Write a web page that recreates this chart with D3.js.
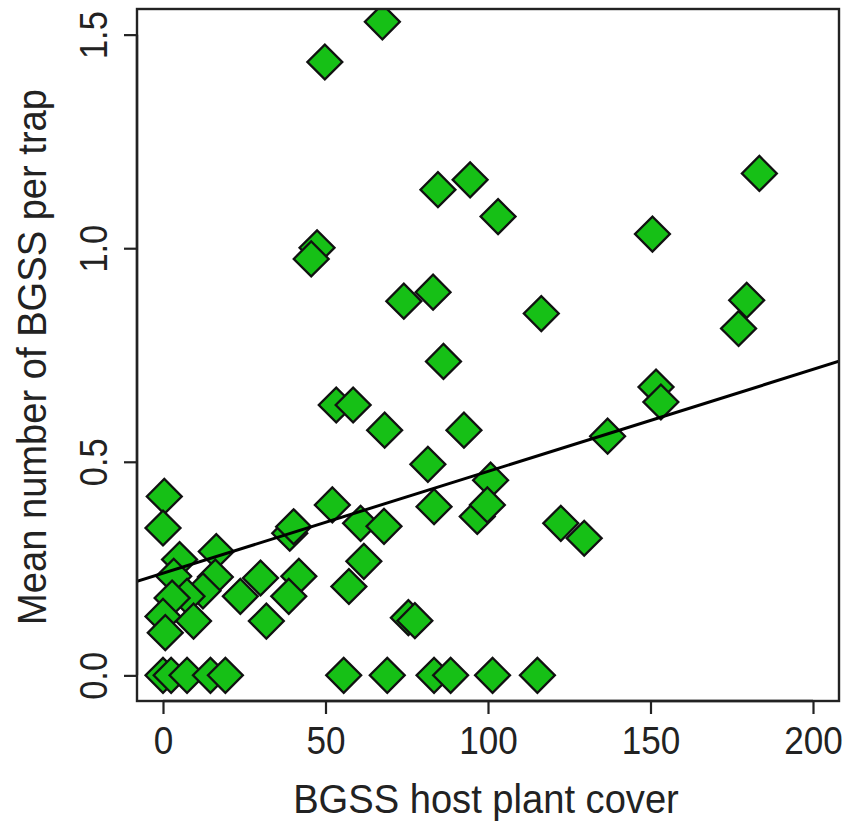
<!DOCTYPE html>
<html>
<head>
<meta charset="utf-8">
<script src="https://cdn.jsdelivr.net/npm/d3@7"></script>
<style>
  html, body { margin: 0; padding: 0; background: #ffffff; }
  svg { display: block; font-family: "Liberation Sans", Arial, sans-serif; }
</style>
</head>
<body>
<div id="chart"></div>
<script>
// Host plant cover (x) vs. mean BGSS catch per trap (y), one value per site
const cover = [
  67.5, 49.8, 47.4, 45.6, 84.6, 94.5, 103.1, 183.5, 150.6,
  53.3, 58.5, 74.1, 83.1, 116.4, 86.3, 68.2, 92.6, 81.5, 136.8, 100.8,
  179.6, 177.1, 151.7, 153.2,
  0.4, 0.0, 5.1, 16.4, 3.3, 16.1, 12.3, 7.4, 2.8, 23.8, 30.0, 9.4, 0.0, 0.7, 31.8,
  52.1, 39.0, 40.2, 60.8, 68.0, 61.8, 57.2, 41.8, 38.7, 75.5, 77.5,
  83.4, 96.7, 99.8, 122.4, 129.6,
  0.0, 2.5, 7.4, 14.6, 19.2, 55.6, 69.0, 83.4, 88.5, 101.4, 115.2
];
const bgss = [
  1.530, 1.436, 1.001, 0.975, 1.137, 1.160, 1.074, 1.175, 1.033,
  0.633, 0.633, 0.876, 0.897, 0.847, 0.735, 0.574, 0.574, 0.494, 0.560, 0.457,
  0.878, 0.812, 0.675, 0.640,
  0.419, 0.345, 0.271, 0.290, 0.232, 0.230, 0.198, 0.185, 0.181, 0.185, 0.228, 0.127, 0.138, 0.100, 0.127,
  0.399, 0.333, 0.348, 0.356, 0.349, 0.267, 0.208, 0.232, 0.185, 0.135, 0.128,
  0.395, 0.372, 0.399, 0.356, 0.321,
  0, 0, 0, 0, 0, 0, 0, 0, 0, 0, 0
];
const xTicks = [0, 50, 100, 150, 200];
const yTicks = [0.0, 0.5, 1.0, 1.5];
const yTickLabels = ["0.0", "0.5", "1.0", "1.5"];
// Fitted linear model: intercept and slope
const fitCoef = [0.239, 0.002386];

const W = 848, H = 822;
const plot = { left: 137, right: 839, top: 9, bottom: 701 };

const svg = d3.select("#chart").append("svg")
  .attr("width", W).attr("height", H);

const x = d3.scaleLinear().domain([-8, 208]).range([plot.left, plot.right]);
const y = d3.scaleLinear().domain([-0.06, 1.56]).range([plot.bottom, plot.top]);

svg.append("clipPath").attr("id", "plotclip")
  .append("rect")
  .attr("x", plot.left).attr("y", plot.top)
  .attr("width", plot.right - plot.left).attr("height", plot.bottom - plot.top);

const inner = svg.append("g").attr("clip-path", "url(#plotclip)");

// Points: filled diamonds
const pts = cover.map((c, i) => ({ c, v: bgss[i] }));
const diamond = d3.symbol().type(d3.symbolSquare).size(610);
inner.selectAll("path.pt")
  .data(pts)
  .join("path")
  .attr("class", "pt")
  .attr("d", diamond)
  .attr("transform", d => `translate(${x(d.c)},${y(d.v)}) rotate(45)`)
  .attr("fill", "#16c016")
  .attr("stroke", "#111")
  .attr("stroke-width", 2.3);

// Regression line across the full plotting region
const xd = x.domain();
inner.append("line")
  .attr("x1", x(xd[0])).attr("y1", y(fitCoef[0] + fitCoef[1] * xd[0]))
  .attr("x2", x(xd[1])).attr("y2", y(fitCoef[0] + fitCoef[1] * xd[1]))
  .attr("stroke", "#000").attr("stroke-width", 3);

// Frame
svg.append("rect")
  .attr("x", plot.left).attr("y", plot.top)
  .attr("width", plot.right - plot.left).attr("height", plot.bottom - plot.top)
  .attr("fill", "none").attr("stroke", "#222").attr("stroke-width", 2.4);

const tickLen = 13;
const textColor = "#222";

// Bottom axis
const xAxis = d3.axisBottom(x).tickValues(xTicks).tickSize(tickLen).tickPadding(12)
  .tickFormat(d3.format("d"));
const gx = svg.append("g").attr("transform", `translate(0,${plot.bottom})`).call(xAxis);
gx.select(".domain")
  .attr("d", `M${x(xTicks[0])},0H${x(xTicks[xTicks.length - 1])}`)
  .attr("stroke", "#222").attr("stroke-width", 2.4);
gx.selectAll(".tick line").attr("stroke", "#222").attr("stroke-width", 2.2);
gx.selectAll(".tick text")
  .attr("fill", textColor)
  .style("font-size", "39px")
  .attr("dy", "0.71em")
  .attr("transform", function () {
    const ty = +d3.select(this).attr("y");
    return `translate(0,${ty}) scale(0.9,1) translate(0,${-ty})`;
  });

// Left axis, labels rotated parallel to the axis
const yAxis = d3.axisLeft(y).tickValues(yTicks).tickSize(tickLen)
  .tickFormat((d, i) => yTickLabels[i]);
const gy = svg.append("g").attr("transform", `translate(${plot.left},0)`).call(yAxis);
gy.select(".domain")
  .attr("d", `M0,${y(yTicks[0])}V${y(yTicks[yTicks.length - 1])}`)
  .attr("stroke", "#222").attr("stroke-width", 2.4);
gy.selectAll(".tick line").attr("stroke", "#222").attr("stroke-width", 2.2);
gy.selectAll(".tick text")
  .attr("fill", textColor)
  .style("font-size", "39px")
  .attr("x", null).attr("dy", null)
  .attr("text-anchor", "middle")
  .attr("transform", "translate(-30,0) rotate(-90) scale(0.88,1)")
  .attr("y", 0);

// Axis titles
svg.append("text")
  .attr("transform", `translate(${(plot.left + plot.right) / 2 - 2},813) scale(0.93,1)`)
  .attr("text-anchor", "middle")
  .attr("fill", textColor)
  .style("font-size", "41px")
  .text("BGSS host plant cover");

svg.append("text")
  .attr("transform", `translate(46,${(plot.top + plot.bottom) / 2 + 2}) rotate(-90) scale(0.93,1)`)
  .attr("text-anchor", "middle")
  .attr("fill", textColor)
  .style("font-size", "41px")
  .text("Mean number of BGSS per trap");
</script>
</body>
</html>
